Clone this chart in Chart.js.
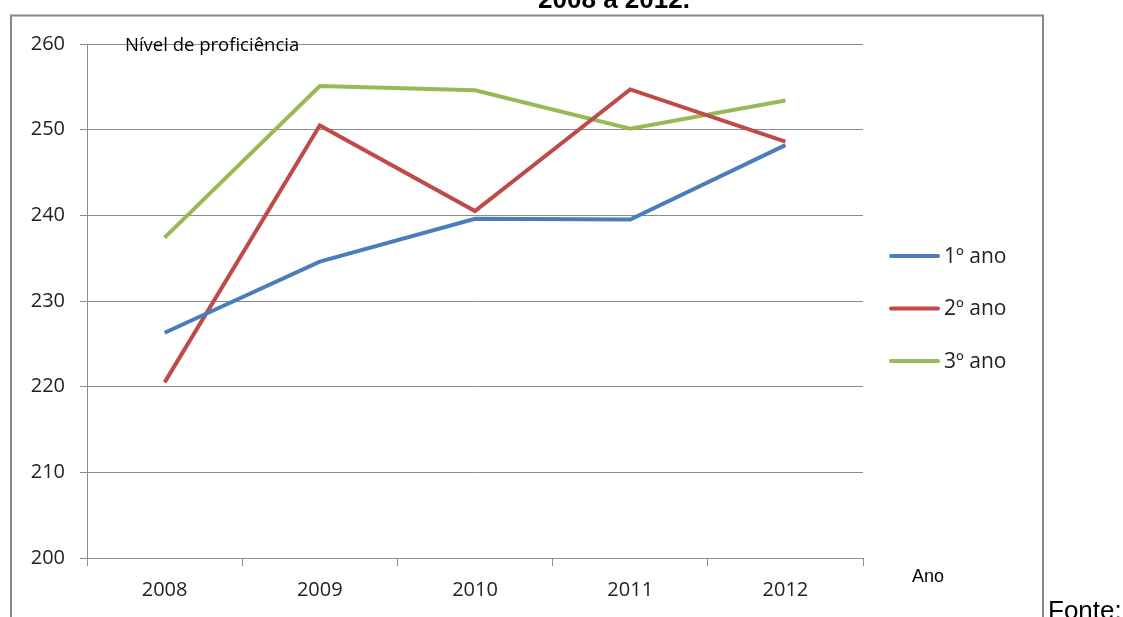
<!DOCTYPE html>
<html>
<head>
<meta charset="utf-8">
<script src="https://cdn.jsdelivr.net/npm/chart.js@4"></script>
<style>
  html, body { margin: 0; padding: 0; background: #fff; overflow: hidden; }
  canvas { display: block; }
</style>
</head>
<body>
<canvas id="grafico" width="1123" height="617"></canvas>
<script>
var anos = ['2008', '2009', '2010', '2011', '2012'];
var primeiroAno = [226.3, 234.6, 239.6, 239.5, 248.2];
var segundoAno = [220.5, 250.5, 240.5, 254.7, 248.6];
var terceiroAno = [237.4, 255.1, 254.6, 250.1, 253.4];
var nomesSeries = ['1º ano', '2º ano', '3º ano'];
var ticksY = [200, 210, 220, 230, 240, 250, 260];

var fonte = '"Open Sans", "Noto Sans", sans-serif';

// moldura, titulo cortado, rotulos e legenda
var extras = {
    id: 'extras',
    afterDraw: function (chart) {
        const ctx = chart.ctx;
        ctx.save();
        ctx.strokeStyle = '#878787';
        ctx.lineWidth = 2;
        ctx.beginPath();
        ctx.moveTo(11, 640);
        ctx.lineTo(11, 15.5);
        ctx.lineTo(1043, 15.5);
        ctx.lineTo(1043, 640);
        ctx.stroke();

        ctx.fillStyle = '#000';
        ctx.textAlign = 'center';
        ctx.textBaseline = 'alphabetic';
        ctx.font = 'bold 26px "Liberation Sans", Arial, sans-serif';
        ctx.fillText('2008 a 2012.', 614, 8);

        ctx.textAlign = 'left';
        ctx.font = '26px "Liberation Sans", Arial, sans-serif';
        ctx.fillText('Fonte:', 1048, 619);

        ctx.font = '18.5px ' + fonte;
        ctx.fillText('Nível de proficiência', 125, 51);
        ctx.font = '18px "Liberation Sans", Arial, sans-serif';
        ctx.fillText('Ano', 912, 582);

        ctx.font = '21px ' + fonte;
        ctx.textBaseline = 'middle';
        ctx.lineCap = 'round';
        chart.data.datasets.forEach(function (ds, i) {
            const y = 256 + i * 52.5;
            ctx.strokeStyle = ds.borderColor;
            ctx.lineWidth = 4;
            ctx.beginPath();
            ctx.moveTo(891, y);
            ctx.lineTo(938, y);
            ctx.stroke();
            ctx.fillStyle = '#222';
            ctx.fillText(ds.label, 944, y + 1);
        });
        ctx.restore();
    }
};

const ctx = document.getElementById('grafico').getContext('2d');

const chart = new Chart(ctx, {
    type: 'line',
    data: {
        labels: anos,
        datasets: [{
            label: nomesSeries[0],
            data: primeiroAno,
            borderColor: '#4a7ebb',
            borderWidth: 4,
            pointRadius: 0,
            tension: 0
        }, {
            label: nomesSeries[1],
            data: segundoAno,
            borderColor: '#be4b48',
            borderWidth: 4,
            pointRadius: 0,
            tension: 0
        }, {
            label: nomesSeries[2],
            data: terceiroAno,
            borderColor: '#98b954',
            borderWidth: 4,
            pointRadius: 0,
            tension: 0
        }]
    },
    options: {
        responsive: false,
        animation: false,
        layout: {
            padding: { top: 44, right: 260, left: 0, bottom: 0 }
        },
        scales: {
            y: {
                min: 200,
                max: 260,
                afterBuildTicks: function (scale) {
                    scale.ticks = ticksY.map(function (v) { return { value: v }; });
                },
                afterFit: function (scale) { scale.width = 87; },
                grid: {
                    color: '#8c8c8c',
                    tickColor: '#8c8c8c',
                    tickLength: 7,
                    lineWidth: 1
                },
                border: { color: '#8c8c8c' },
                ticks: {
                    color: '#222',
                    font: { family: fonte, size: 20 },
                    padding: 15
                }
            },
            x: {
                offset: true,
                afterFit: function (scale) { scale.height = 59; },
                grid: {
                    offset: true,
                    drawOnChartArea: false,
                    tickColor: '#8c8c8c',
                    tickLength: 8
                },
                border: { color: '#8c8c8c' },
                ticks: {
                    color: '#222',
                    font: { family: fonte, size: 20 },
                    padding: 12
                }
            }
        },
        plugins: {
            legend: { display: false },
            title: { display: false },
            tooltip: { enabled: false }
        }
    },
    plugins: [extras]
});
</script>
</body>
</html>
